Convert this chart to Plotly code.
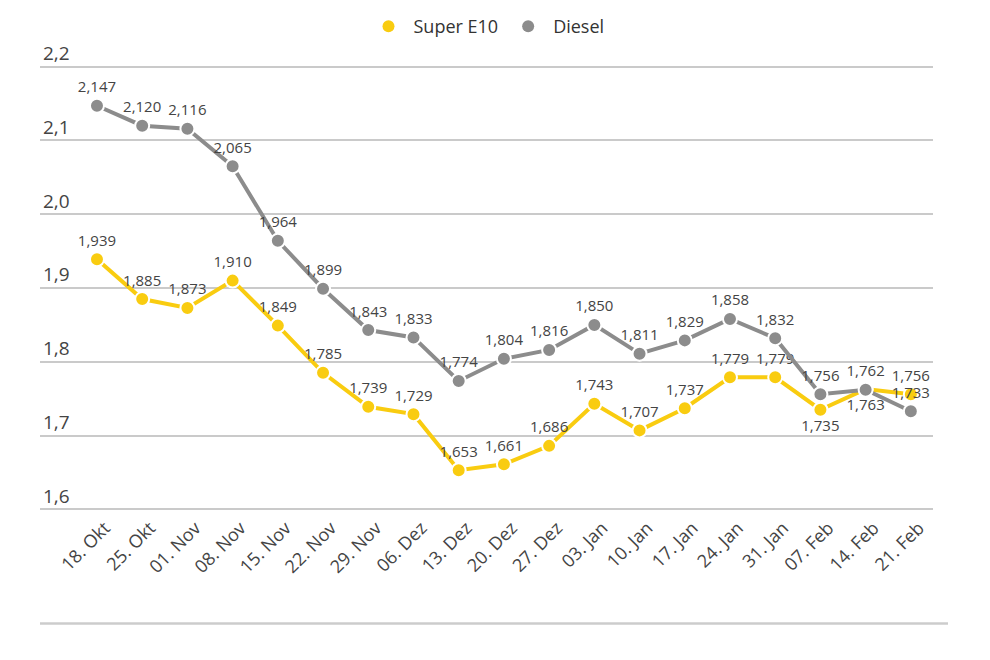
import plotly.graph_objects as go

categories = ["18. Okt", "25. Okt", "01. Nov", "08. Nov", "15. Nov", "22. Nov", "29. Nov",
              "06. Dez", "13. Dez", "20. Dez", "27. Dez", "03. Jan", "10. Jan", "17. Jan",
              "24. Jan", "31. Jan", "07. Feb", "14. Feb", "21. Feb"]
super_e10 = [1.939, 1.885, 1.873, 1.910, 1.849, 1.785, 1.739, 1.729, 1.653, 1.661, 1.686,
             1.743, 1.707, 1.737, 1.779, 1.779, 1.735, 1.763, 1.756]
diesel = [2.147, 2.120, 2.116, 2.065, 1.964, 1.899, 1.843, 1.833, 1.774, 1.804, 1.816,
          1.850, 1.811, 1.829, 1.858, 1.832, 1.756, 1.762, 1.733]
y_ticks = [1.6, 1.7, 1.8, 1.9, 2.0, 2.1, 2.2]

YELLOW = "#F9CC10"
GREY = "#8C8C8C"
FONT = "Open Sans"

super_pos = ["top center"] * len(categories)
super_pos[16] = "bottom center"
super_pos[17] = "bottom center"

fig = go.Figure()
for name, vals, color, pos in [("Super E10", super_e10, YELLOW, super_pos),
                               ("Diesel", diesel, GREY, "top center")]:
    fig.add_trace(go.Scatter(
        x=categories, y=vals, name=name, mode="lines+markers+text", showlegend=False,
        line=dict(color=color, width=4),
        marker=dict(size=14, color=color, line=dict(color="white", width=2)),
        texttemplate="%{y:.3f}", textposition=pos,
        textfont=dict(family=FONT, size=15, color="#444444"),
        cliponaxis=False,
    ))
for name, color in [("Super E10", YELLOW), ("Diesel", GREY)]:
    fig.add_trace(go.Scatter(
        x=[None], y=[None], name=name, mode="markers",
        marker=dict(size=20, color=color),
    ))

fig.update_layout(
    width=974, height=644,
    margin=dict(l=32, r=49, t=55, b=139, autoexpand=False),
    paper_bgcolor="white", plot_bgcolor="white",
    separators=",.",
    font=dict(family=FONT, color="#444444"),
    showlegend=True,
    legend=dict(orientation="h", x=0.5, xanchor="center", y=1.081, yanchor="middle",
                font=dict(family=FONT, size=18, color="#333333"),
                itemsizing="constant", itemwidth=40),
    xaxis=dict(type="category", range=[-1.26, 18.49], showgrid=False, zeroline=False,
               showline=False, ticks="", tickangle=-45, automargin=False,
               ticklabelshift=8,
               tickfont=dict(family=FONT, size=18, color="#444444")),
    yaxis=dict(range=[1.595, 2.205], tickvals=y_ticks, tickformat=".1f",
               showgrid=True, gridcolor="#CACACA", gridwidth=1.5, zeroline=False,
               showline=False, ticks="", ticklabelposition="inside top",
               ticklabeloverflow="allow", automargin=False,
               tickfont=dict(family=FONT, size=19, color="#444444")),
)

fig.add_shape(type="line", xref="paper", yref="paper", x0=0, x1=1.0168, y0=-0.2455, y1=-0.2455,
              line=dict(color="#CCCCCC", width=2.5))

fig.write_html("out.html")
